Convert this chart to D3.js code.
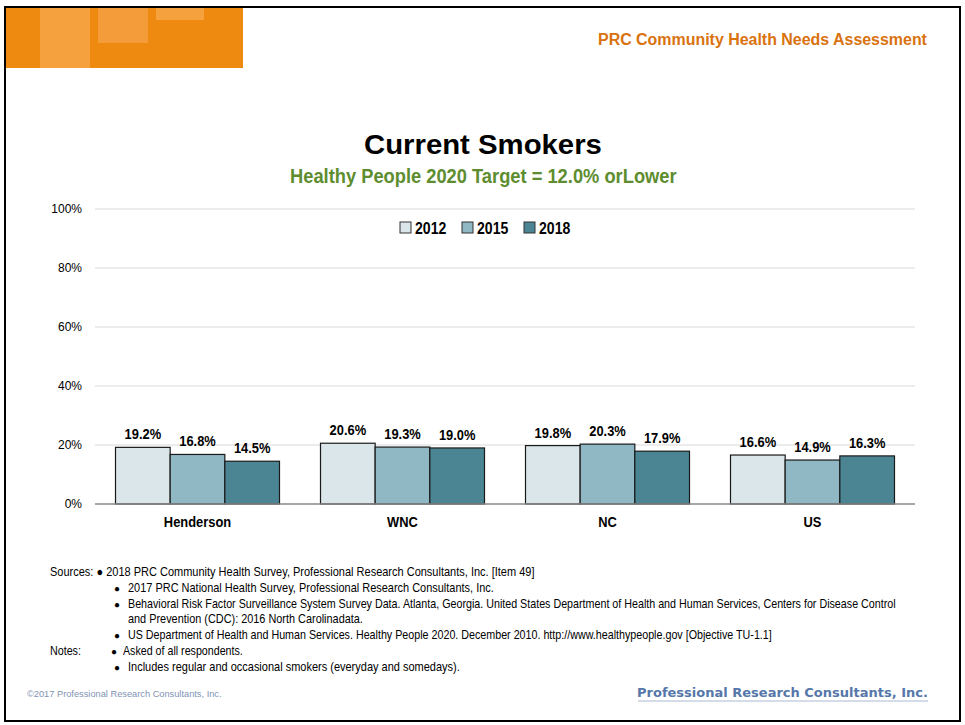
<!DOCTYPE html>
<html><head><meta charset="utf-8">
<script src="https://cdn.jsdelivr.net/npm/d3@7"></script>
<style>
body{margin:0;background:#fff;}
text{font-family:"Liberation Sans",Arial,sans-serif;}
</style></head>
<body><svg id="c" width="965" height="725"></svg>
<script>
const categories = ["Henderson","WNC","NC","US"];
const years = ["2012","2015","2018"];
const values2012 = [19.2, 20.6, 19.8, 16.6];
const values2015 = [16.8, 19.3, 20.3, 14.9];
const values2018 = [14.5, 19.0, 17.9, 16.3];
const yTicks = [0,20,40,60,80,100];
const colors = ["#DAE6EA","#90B7C4","#4B8594"];
const sources = [
  "2018 PRC Community Health Survey, Professional Research Consultants, Inc. [Item 49]",
  "2017 PRC National Health Survey, Professional Research Consultants, Inc.",
  "Behavioral Risk Factor Surveillance System Survey Data. Atlanta, Georgia. United States Department of Health and Human Services, Centers for Disease Control",
  "and Prevention (CDC): 2016 North Carolinadata.",
  "US Department of Health and Human Services. Healthy People 2020. December 2010. http://www.healthypeople.gov [Objective TU-1.1]"
];
const notes = ["Asked of all respondents.","Includes regular and occasional smokers (everyday and somedays)."];

const series = [values2012, values2015, values2018];
const svg = d3.select("#c");
const SX = 0.86;

function narrowText(parent, x, y, txt, opts){
  return parent.append("text")
    .attr("transform", `translate(${x},${y}) scale(${opts.sx||SX},1)`)
    .attr("text-anchor", opts.anchor||"start")
    .style("font-size", opts.size||"12px")
    .style("font-weight", opts.weight||"normal")
    .attr("fill", opts.fill||"#000")
    .text(txt);
}
// scale text horizontally so it spans a target width
function fitW(parent, x, y, txt, w, opts){
  const t = parent.append("text").attr("x",0).attr("y",0)
    .style("font-size", opts.size||"12px")
    .style("font-weight", opts.weight||"normal")
    .attr("fill", opts.fill||"#000")
    .text(txt);
  if(opts.family) t.style("font-family", opts.family);
  const nat = t.node().getComputedTextLength();
  t.attr("transform", `translate(${x},${y}) scale(${w/nat},1)`);
  return t;
}

// frame
svg.append("rect").attr("x",5).attr("y",7).attr("width",955).attr("height",714)
  .attr("fill","#fff").attr("stroke","#000").attr("stroke-width",2);

// header orange block
const hdr = svg.append("g");
hdr.append("rect").attr("x",6).attr("y",8).attr("width",237).attr("height",60).attr("fill","#EE8A10");
hdr.append("rect").attr("x",40).attr("y",8).attr("width",50).attr("height",60).attr("fill","#F6A64A").attr("opacity",0.8);
hdr.append("rect").attr("x",98).attr("y",8).attr("width",50).attr("height",35).attr("fill","#F5A043").attr("opacity",0.8);
hdr.append("rect").attr("x",156).attr("y",8).attr("width",48).attr("height",12).attr("fill","#F6A64A").attr("opacity",0.8);
fitW(svg, 598, 45, "PRC Community Health Needs Assessment", 329, {size:"16px", weight:"bold", fill:"#D9720F"});

// titles
fitW(svg, 364, 154, "Current Smokers", 238, {size:"28px", weight:"bold"});
fitW(svg, 290, 183, "Healthy People 2020 Target = 12.0% orLower", 387, {size:"20px", weight:"bold", fill:"#5E8D2F"});

// scales
const x0 = d3.scaleBand().domain(categories).range([95,915]).paddingInner(0.2).paddingOuter(0.1);
const x1 = d3.scaleBand().domain(years).range([0,x0.bandwidth()]);
const y = d3.scaleLinear().domain([0,100]).range([504,209]);

// grid + y axis
const yAxis = d3.axisLeft(y).tickValues(yTicks).tickFormat(d=>d+"%").tickSize(0).tickPadding(13);
const ga = svg.append("g").attr("transform","translate(95,0)").call(yAxis);
ga.select(".domain").remove();
ga.selectAll("text").style("font-family","'Liberation Sans',Arial,sans-serif").style("font-size","12px").attr("fill","#000");
svg.append("g").selectAll("line").data(yTicks.filter(d=>d>0)).join("line")
  .attr("x1",95).attr("x2",915).attr("y1",d=>y(d)).attr("y2",d=>y(d))
  .attr("stroke","#D9D9D9").attr("stroke-width",1);

// bars
const g = svg.append("g");
categories.forEach((c,i)=>{
  years.forEach((yr,j)=>{
    const v = series[j][i];
    const bx = x0(c)+x1(yr);
    g.append("rect").attr("x",bx).attr("y",y(v)).attr("width",x1.bandwidth()).attr("height",y(0)-y(v))
      .attr("fill",colors[j]).attr("stroke","#1a1a1a").attr("stroke-width",1.2);
    narrowText(g, bx+x1.bandwidth()/2, y(v)-8, v.toFixed(1)+"%", {anchor:"middle", size:"15px", weight:"bold"});
  });
});
svg.append("line").attr("x1",95).attr("x2",915).attr("y1",y(0)).attr("y2",y(0)).attr("stroke","#888").attr("stroke-width",1.3);

// x axis labels
const xAxis = d3.axisBottom(x0).tickSize(0).tickPadding(12);
const gx = svg.append("g").attr("transform",`translate(0,${y(0)})`).call(xAxis);
gx.select(".domain").remove();
gx.selectAll("text").style("font-family","'Liberation Sans',Arial,sans-serif").style("font-weight","bold").style("font-size","15px").attr("fill","#000")
  .attr("transform",`scale(${SX},1)`).attr("x",0);

// legend
const leg = svg.append("g").attr("transform","translate(400,228)");
const legX = [0,62,124];
years.forEach((yr,j)=>{
  leg.append("rect").attr("x",legX[j]).attr("y",-6).attr("width",11).attr("height",11)
    .attr("fill",colors[j]).attr("stroke","#333").attr("stroke-width",1);
  narrowText(leg, legX[j]+15, 5.5, yr, {size:"16px", weight:"bold", sx:0.88});
});

// sources / notes
const st = svg.append("g");
const o = {size:"12.5px"};
fitW(st, 50, 576, "Sources: \u25CF "+sources[0], 485, o);
st.append("text").attr("x",114).attr("y",592).style("font-size","10px").text("\u25CF");
fitW(st, 128, 592, sources[1], 366, o);
st.append("text").attr("x",114).attr("y",608).style("font-size","10px").text("\u25CF");
fitW(st, 128, 608, sources[2], 769, o);
fitW(st, 128, 623, sources[3], 235, o);
st.append("text").attr("x",114).attr("y",639).style("font-size","10px").text("\u25CF");
fitW(st, 128, 639, sources[4], 645, o);
fitW(st, 50, 655, "Notes:", 31, o);
st.append("text").attr("x",111).attr("y",655).style("font-size","10px").text("\u25CF");
fitW(st, 123, 655, notes[0], 120, o);
st.append("text").attr("x",114).attr("y",671).style("font-size","10px").text("\u25CF");
fitW(st, 128, 671, notes[1], 332, o);

// footer
fitW(svg, 27, 697, "\u00A92017 Professional Research Consultants, Inc.", 195, {size:"8.5px", fill:"#8193B5"});
fitW(svg, 637, 697, "Professional Research Consultants, Inc.", 291, {size:"13px", weight:"bold", fill:"#5577AA", family:"'DejaVu Sans',sans-serif"});
svg.append("line").attr("x1",638).attr("x2",928).attr("y1",701).attr("y2",701).attr("stroke","#A9B8D4").attr("stroke-width",1.2);
</script></body></html>
